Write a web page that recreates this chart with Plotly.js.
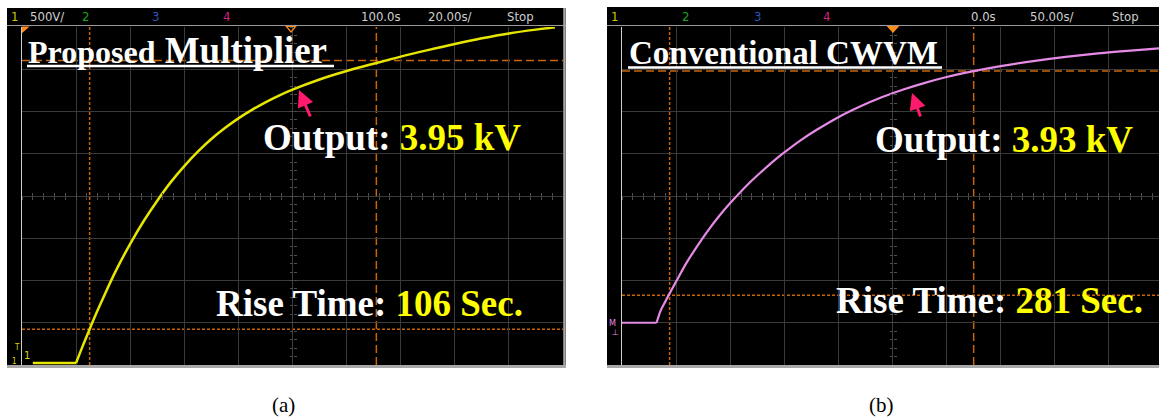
<!DOCTYPE html>
<html><head><meta charset="utf-8">
<script src="https://cdn.plot.ly/plotly-3.0.1.min.js"></script>
<style>html,body{margin:0;padding:0;background:#fff;overflow:hidden}#chart{width:1159px;height:419px}</style>
</head><body><div id="chart"></div>
<script>
// ---- Panel (a): Proposed Multiplier (20 s/div, 500 V/div, delay 100 s) ----
const timeA = [4, 20, 22.5, 25, 27.5, 30, 35, 40, 45, 50, 55, 60, 65, 70, 75, 80, 85, 90, 95, 100, 110, 120, 131, 140, 150, 160, 170, 180, 190, 197];
const voltA = [0, 0, 205, 400, 590, 770, 1110, 1410, 1680, 1920, 2140, 2330, 2500, 2650, 2780, 2895, 2995, 3085, 3165, 3235, 3355, 3455, 3550, 3625, 3702, 3775, 3842, 3900, 3945, 3972];
const cursorTimeA = [25, 131];
const cursorVoltA = [400, 3580];
const headerA = ['1', '500V/', '2', '3', '4', '100.0s', '20.00s/', 'Stop'];
// ---- Panel (b): Conventional CWVM (50 s/div, delay 0 s) ----
const timeB = [-250, -218, -214, -210, -206, -200, -190, -180, -170, -160, -150, -140, -130, -120, -110, -100, -85, -70, -50, -30, -10, 10, 30, 50, 75, 100, 130, 160, 190, 220, 250];
const voltB = [0, 0, 182, 300, 415, 585, 860, 1100, 1320, 1520, 1700, 1865, 2020, 2160, 2295, 2418, 2590, 2740, 2919, 3070, 3201, 3312, 3407, 3490, 3574, 3645, 3715, 3775, 3825, 3865, 3900];
const cursorTimeB = [-206, 75];
const cursorVoltB = [390, 3575];
const headerB = ['1', '2', '3', '4', '0.0s', '50.00s/', 'Stop'];
const labelsA = {title: 'Proposed Multiplier', output: '3.95 kV', rise: '106 Sec.', caption: '(a)'};
const labelsB = {title: 'Conventional CWVM', output: '3.93 kV', rise: '281 Sec.', caption: '(b)'};

const W = 1159, H = 419;
const px = x => x / W;
const py = y => 1 - y / H;
const yDom = [py(365), py(27)];
const ORANGE = '#c8640a';
const TRIG = '#ff8c1a';
const GRID = '#3a3a3a';
const serif = 'Liberation Serif, Times New Roman, serif';
const narrow = 'Liberation Sans Narrow, DejaVu Sans Condensed, Arial Narrow, sans-serif';

const traces = [
  {x: timeA.slice(0, 2), y: voltA.slice(0, 2), xaxis: 'x', yaxis: 'y', mode: 'lines', line: {color: '#e6e600', width: 2.5}, hoverinfo: 'skip'},
  {x: timeA.slice(1), y: voltA.slice(1), xaxis: 'x', yaxis: 'y', mode: 'lines', line: {color: '#e6e600', width: 2.5, shape: 'spline', smoothing: 1}, hoverinfo: 'skip'},
  {x: timeB.slice(0, 2), y: voltB.slice(0, 2), xaxis: 'x2', yaxis: 'y2', mode: 'lines', line: {color: '#e58ae5', width: 2.2}, hoverinfo: 'skip'},
  {x: timeB.slice(1), y: voltB.slice(1), xaxis: 'x2', yaxis: 'y2', mode: 'lines', line: {color: '#e58ae5', width: 2.2, shape: 'spline', smoothing: 1}, hoverinfo: 'skip'}
];
// dummy traces for center-crosshair minor tick axes
['3', '4', '5', '6'].forEach(n => traces.push({x: [null], y: [null], xaxis: 'x' + n, yaxis: 'y' + n, mode: 'lines', hoverinfo: 'skip', showlegend: false}));

const baseX = {showgrid: true, gridcolor: GRID, gridwidth: 1, zeroline: false, showticklabels: false, ticks: '', showline: false, fixedrange: true};
const baseY = {showgrid: true, gridcolor: GRID, gridwidth: 1, zeroline: false, showticklabels: false, ticks: '', showline: true, linecolor: '#cfcfcf', linewidth: 1.5, fixedrange: true};
const rA = [0, 200], rB = [-250, 246.3];
const vA = [-24, 3976], vB = [-600, 4200];
const tickAx = (over, range, pos, dtick, tick0, dir) => ({overlaying: over, anchor: 'free', position: pos, range: range, tick0: tick0, dtick: dtick,
  ticks: dir, ticklen: 3, tickwidth: 1, tickcolor: '#4e4e4e', showgrid: false, zeroline: false, showline: false, showticklabels: false, fixedrange: true});
const yc = py(196);

const layout = {
  width: W, height: H, margin: {l: 0, r: 0, t: 0, b: 0},
  paper_bgcolor: '#ffffff', plot_bgcolor: '#000000', showlegend: false,
  xaxis: Object.assign({}, baseX, {domain: [px(22), px(563)], range: rA, tick0: 0, dtick: 20, anchor: 'y'}),
  yaxis: Object.assign({}, baseY, {domain: yDom, range: vA, tick0: -24, dtick: 500, anchor: 'x'}),
  xaxis2: Object.assign({}, baseX, {domain: [px(622), 1], range: rB, tick0: -250, dtick: 50, anchor: 'y2'}),
  yaxis2: Object.assign({}, baseY, {domain: yDom, range: vB, tick0: 0, dtick: 600, anchor: 'x2'}),
  xaxis3: tickAx('x', rA, yc, 4, 0, 'outside'),
  yaxis3: tickAx('y', vA, px(292.5), 100, -24, 'outside'),
  xaxis4: tickAx('x', rA, yc, 4, 0, 'inside'),
  yaxis4: tickAx('y', vA, px(292.5), 100, -24, 'inside'),
  xaxis5: tickAx('x2', rB, yc, 10, -250, 'outside'),
  yaxis5: tickAx('y2', vB, px(892.5), 120, 0, 'outside'),
  xaxis6: tickAx('x2', rB, yc, 10, -250, 'inside'),
  yaxis6: tickAx('y2', vB, px(892.5), 120, 0, 'inside'),
  shapes: [], annotations: []
};

const S = layout.shapes, A = layout.annotations;
// scope frames
S.push({type: 'rect', xref: 'paper', yref: 'paper', x0: px(7), x1: px(566), y0: py(368), y1: py(8), fillcolor: '#000', line: {width: 0}, layer: 'below'});
S.push({type: 'rect', xref: 'paper', yref: 'paper', x0: px(607), x1: 1, y0: py(368), y1: py(7), fillcolor: '#000', line: {width: 0}, layer: 'below'});
[[7, 566], [607, 1159]].forEach(([a, b]) => {
  S.push({type: 'line', xref: 'paper', yref: 'paper', x0: px(a), x1: px(b), y0: py(25.5), y1: py(25.5), line: {color: '#9a9a9a', width: 1.2}});
  S.push({type: 'line', xref: 'paper', yref: 'paper', x0: px(a), x1: px(b), y0: py(366.5), y1: py(366.5), line: {color: '#a8a8a8', width: 3}});
});
S.push({type: 'line', xref: 'paper', yref: 'paper', x0: px(564.5), x1: px(564.5), y0: py(368), y1: py(8), line: {color: '#a8a8a8', width: 2.5}});
// title underlines
S.push({type: 'line', xref: 'paper', yref: 'paper', x0: px(27), x1: px(334), y0: py(66), y1: py(66), line: {color: '#fff', width: 2.5}});
S.push({type: 'line', xref: 'paper', yref: 'paper', x0: px(628), x1: px(942), y0: py(67.5), y1: py(67.5), line: {color: '#fff', width: 2.5}});
// trigger / level markers (small triangles)
const tri = (pts, fill) => S.push({type: 'path', xref: 'paper', yref: 'paper',
  path: 'M ' + pts.map(p => px(p[0]) + ',' + py(p[1])).join(' L ') + ' Z',
  fillcolor: fill ? TRIG : 'rgba(0,0,0,0)', line: {color: TRIG, width: 1.2}});
tri([[286.5, 26.5], [295.5, 26.5], [291, 32]], false);
tri([[888, 26.5], [898, 26.5], [893, 32]], true);
tri([[22.5, 27], [28, 27], [22.5, 32]], true);
// cursors
const dashes = ['3px,2px', '8px,4px'];
cursorTimeA.forEach((t, i) => S.push({type: 'line', xref: 'x', yref: 'y domain', x0: t, x1: t, y0: 0, y1: 1, line: {color: ORANGE, width: 1.5, dash: dashes[i]}, layer: 'below'}));
cursorVoltA.forEach((v, i) => S.push({type: 'line', xref: 'x domain', yref: 'y', x0: 0, x1: 1, y0: v, y1: v, line: {color: ORANGE, width: 1.5, dash: dashes[i]}, layer: 'below'}));
cursorTimeB.forEach((t, i) => S.push({type: 'line', xref: 'x2', yref: 'y2 domain', x0: t, x1: t, y0: 0, y1: 1, line: {color: ORANGE, width: 1.5, dash: dashes[i]}, layer: 'below'}));
cursorVoltB.forEach((v, i) => S.push({type: 'line', xref: 'x2 domain', yref: 'y2', x0: 0, x1: 1, y0: v, y1: v, line: {color: ORANGE, width: 1.5, dash: dashes[i]}, layer: 'below'}));

// header texts
const note = (x, y, text, size, color, family, extra) => A.push(Object.assign({xref: 'paper', yref: 'paper', x: px(x), y: py(y), text: text, showarrow: false,
  font: {size: size, color: color, family: family}, xanchor: 'center', yanchor: 'middle'}, extra || {}));
const hdrColA = ['#c8c800', '#cfcfcf', '#20a020', '#3050c0', '#d0207a', '#cfcfcf', '#cfcfcf', '#cfcfcf'];
const hdrXA = [14, 47, 85, 155, 226, 381, 450, 520];
headerA.forEach((t, i) => note(hdrXA[i], 16, t, 13, hdrColA[i], narrow));
const hdrColB = ['#c8c800', '#20a020', '#3050c0', '#d0207a', '#cfcfcf', '#cfcfcf', '#cfcfcf'];
const hdrXB = [614, 685, 757, 827, 983, 1052, 1125];
headerB.forEach((t, i) => note(hdrXB[i], 16, t, 13, hdrColB[i], narrow));
// channel markers
note(17, 347, 'T', 8, '#d8d800', narrow);
note(27, 355, '1', 11, '#d8d800', narrow);
note(14, 361, '1', 8, '#d8d800', narrow);
note(612, 323, 'M', 9, '#e58ae5', narrow);
note(615, 332, '⊥', 8, '#e58ae5', 'DejaVu Sans');

// titles and labels
const bold = {weight: 'bold'};
A.push({xref: 'paper', yref: 'paper', x: px(26), y: py(50), xanchor: 'left', yanchor: 'middle', showarrow: false,
  text: '<span style="font-size:32px">Proposed</span> Multiplier', font: Object.assign({size: 37, color: '#fff', family: serif}, bold)});
A.push({xref: 'paper', yref: 'paper', x: px(627), y: py(53), xanchor: 'left', yanchor: 'middle', showarrow: false,
  text: labelsB.title, font: Object.assign({size: 33, color: '#fff', family: serif}, bold)});
const label = (x, y, a, b) => A.push({xref: 'paper', yref: 'paper', x: px(x), y: py(y), xanchor: 'left', yanchor: 'middle', showarrow: false,
  text: a + ' <span style="color:#ffff00">' + b + '</span>', font: Object.assign({size: 37, color: '#fff', family: serif}, bold)});
label(261, 137, 'Output:', labelsA.output);
label(214, 303, 'Rise Time:', labelsA.rise);
label(873, 139, 'Output:', labelsB.output);
label(834, 300, 'Rise Time:', labelsB.rise);
// arrows
const arrow = (x, y, ax, ay) => A.push({xref: 'paper', yref: 'paper', x: px(x), y: py(y), text: '', showarrow: true,
  ax: ax, ay: ay, arrowcolor: '#ff1a6e', arrowwidth: 3, arrowhead: 2, arrowsize: 1.1, standoff: 0, startstandoff: 0});
arrow(299, 90, 12, 28);
arrow(912, 93, 9, 25);
// captions
note(283, 405, labelsA.caption, 21, '#000', serif);
note(881, 405, labelsB.caption, 21, '#000', serif);

Plotly.newPlot('chart', traces, layout, {staticPlot: true, displayModeBar: false});
</script></body></html>
